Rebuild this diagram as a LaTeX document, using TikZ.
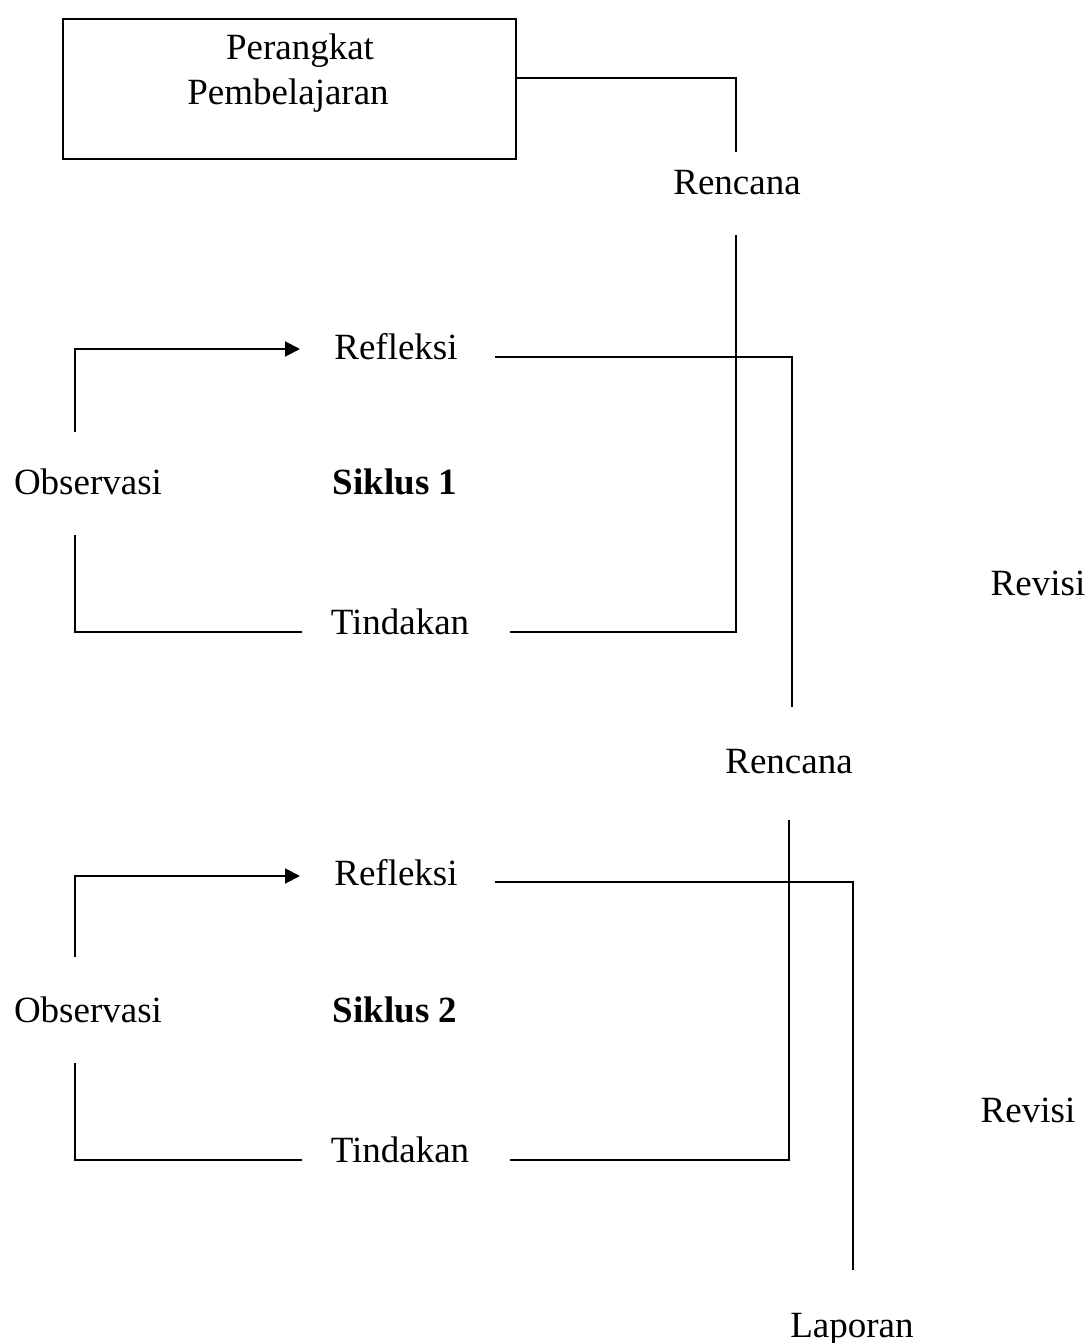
\documentclass[tikz,border=0pt]{standalone}
\usepackage{fontspec}
\setmainfont{Liberation Serif}
\usetikzlibrary{arrows.meta}
\begin{document}
\begin{tikzpicture}[x=1pt,y=-1pt,
  lbl/.style={anchor=base, inner sep=0pt, font=\fontsize{37}{45}\selectfont},
  conn/.style={line width=1.9pt, line join=miter},
  arr/.style={conn, -{Triangle[length=15pt,width=15pt]}}]
\useasboundingbox (0,0) rectangle (1089,1343);
% box
\node[draw, line width=1.9pt, minimum width=453pt, minimum height=140pt, anchor=north west, inner sep=0pt] (box) at (62,18) {};
\node[lbl] (boxtext1) at (300,60) {Perangkat};
\node[lbl] (boxtext2) at (288,105) {Pembelajaran};
% labels cycle 1
\node[lbl] (ren1) at (737,195) {Rencana};
\node[lbl] (ref1) at (396,359) {Refleksi};
\node[lbl] (obs1) at (88,494) {Observasi};
\node[lbl] (sik1) at (395,494) {\bfseries Siklus 1};
\node[lbl] (tin1) at (400,634) {Tindakan};
\node[lbl] (rev1) at (1038,595) {Revisi};
% labels cycle 2
\node[lbl] (ren2) at (789,773) {Rencana};
\node[lbl] (ref2) at (396,885) {Refleksi};
\node[lbl] (obs2) at (88,1022) {Observasi};
\node[lbl] (sik2) at (395,1022) {\bfseries Siklus 2};
\node[lbl] (tin2) at (400,1162) {Tindakan};
\node[lbl] (rev2) at (1028,1122) {Revisi};
\node[lbl] (lap) at (852,1337) {Laporan};
% free ends
\coordinate (a1) at (736,152);
\coordinate (b0) at (736,235);
\coordinate (b1) at (510,632);
\coordinate (c0) at (302,632);
\coordinate (c1) at (75,535);
\coordinate (d0) at (75,432);
\coordinate (d1) at (300,349);
\coordinate (e0) at (495,357);
\coordinate (e1) at (792,707);
\coordinate (f0) at (789,820);
\coordinate (f1) at (510,1160);
\coordinate (g0) at (302,1160);
\coordinate (g1) at (75,1063);
\coordinate (h0) at (75,957);
\coordinate (h1) at (300,876);
\coordinate (i0) at (495,882);
\coordinate (i1) at (853,1270);
% connectors
\draw[conn] (box.east |- 0,78) -| (a1);
\draw[conn] (b0) |- (b1);
\draw[conn] (c0) -| (c1);
\draw[arr] (d0) |- (d1);
\draw[conn] (e0) -| (e1);
\draw[conn] (f0) |- (f1);
\draw[conn] (g0) -| (g1);
\draw[arr] (h0) |- (h1);
\draw[conn] (i0) -| (i1);
\end{tikzpicture}
\end{document}
